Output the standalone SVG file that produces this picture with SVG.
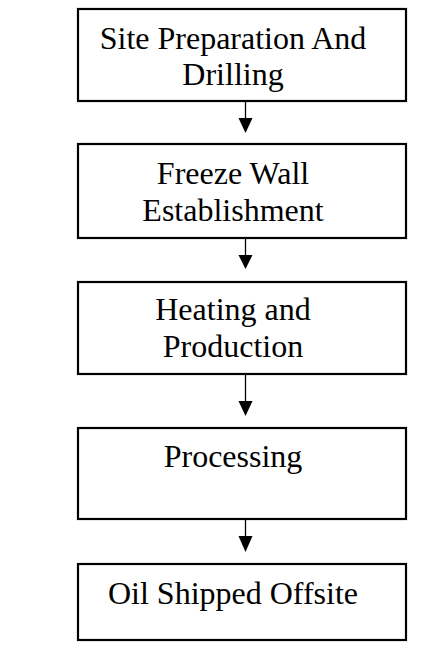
<svg xmlns="http://www.w3.org/2000/svg" width="446" height="651" viewBox="0 0 446 651">
  <style>
    .box { fill: #ffffff; stroke: #000000; stroke-width: 2.2; }
    .lbl { font-family: "Liberation Serif", "Times New Roman", serif; font-size: 32px; fill: #000000; text-anchor: middle; }
    .line { stroke: #000000; stroke-width: 1.3; fill: none; }
    .head { fill: #000000; }
  </style>
  <rect x="0" y="0" width="446" height="651" fill="#ffffff"/>
  <g id="n1">
    <rect class="box" x="78" y="9" width="328" height="92"/>
    <text class="lbl" x="233" y="49">Site Preparation And</text>
    <text class="lbl" x="233" y="85">Drilling</text>
  </g>
  <g id="n2">
    <rect class="box" x="78" y="144" width="328" height="94"/>
    <text class="lbl" x="233" y="184">Freeze Wall</text>
    <text class="lbl" x="233" y="221">Establishment</text>
  </g>
  <g id="n3">
    <rect class="box" x="78" y="282" width="328" height="92"/>
    <text class="lbl" x="233" y="320">Heating and</text>
    <text class="lbl" x="233" y="357">Production</text>
  </g>
  <g id="n4">
    <rect class="box" x="78" y="428" width="328" height="91"/>
    <text class="lbl" x="233" y="467">Processing</text>
  </g>
  <g id="n5">
    <rect class="box" x="78" y="564" width="328" height="76"/>
    <text class="lbl" x="233" y="604">Oil Shipped Offsite</text>
  </g>
  <g id="connectors">
    <path class="line" d="M245.5,102 L245.5,118"/>
    <path class="head" d="M238.5,118 L252.5,118 L245.5,133 Z"/>
    <path class="line" d="M245.5,239 L245.5,255"/>
    <path class="head" d="M238.5,255 L252.5,255 L245.5,269 Z"/>
    <path class="line" d="M245.5,375 L245.5,401"/>
    <path class="head" d="M238.5,401 L252.5,401 L245.5,416 Z"/>
    <path class="line" d="M245.5,520 L245.5,536"/>
    <path class="head" d="M238.5,536 L252.5,536 L245.5,552 Z"/>
  </g>
</svg>
